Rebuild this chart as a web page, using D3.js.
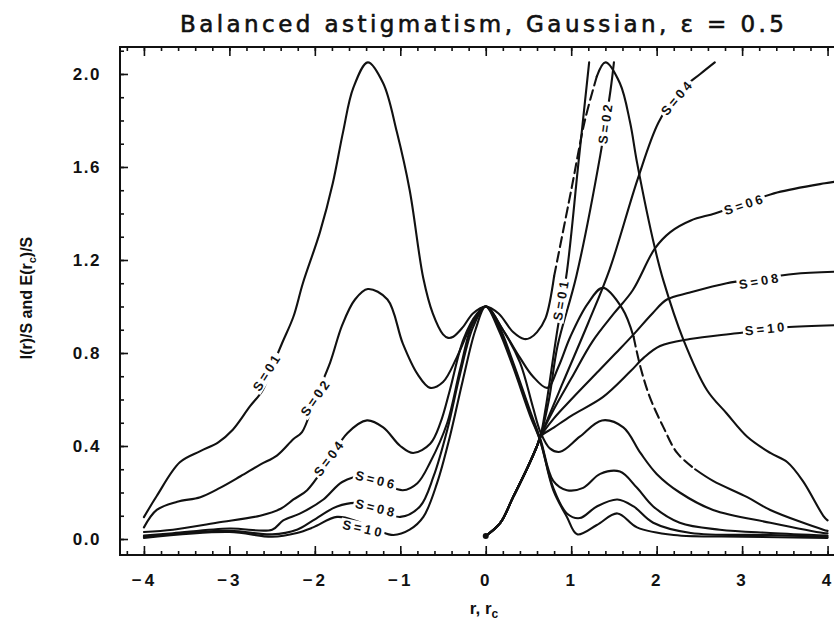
<!DOCTYPE html>
<html><head><meta charset="utf-8">
<script src="https://cdn.jsdelivr.net/npm/d3@7"></script>
<style>
body{margin:0;background:#fff;}
svg{display:block;background:#fff;}
</style></head><body>
<svg id="chart" width="834" height="624"></svg>
<script>
// ---------- data ----------
const titleText = "Balanced astigmatism, Gaussian, ε = 0.5";
const xTicks = [-4, -3, -2, -1, 0, 1, 2, 3, 4];
const yTicks = [0.0, 0.4, 0.8, 1.2, 1.6, 2.0];
const strehl = [0.1, 0.2, 0.4, 0.6, 0.8, 1.0];

// I(r)/S curves, [r, value]
const intensityS01 = [[-4,0.094],[-3.85,0.185],[-3.58,0.33],[-3.34,0.378],[-3.13,0.416],[-2.96,0.47],[-2.76,0.57],[-2.61,0.64],[-2.5,0.74],[-2.38,0.845],[-2.25,0.957],[-2.14,1.10],[-1.94,1.32],[-1.79,1.53],[-1.67,1.75],[-1.55,1.94],[-1.38,2.05],[-1.20,1.96],[-1.04,1.75],[-0.89,1.50],[-0.73,1.12],[-0.62,0.97],[-0.50,0.88],[-0.44,0.865],[-0.38,0.87],[-0.27,0.91],[-0.15,0.97],[0,1.0],[0.15,0.97],[0.32,0.89],[0.45,0.86],[0.52,0.865],[0.6,0.89],[0.7,0.95],[0.8,1.13],[1.0,1.5],[1.16,1.8],[1.3,1.99],[1.4,2.05],[1.57,1.96],[1.69,1.79],[1.77,1.62],[1.98,1.25],[2.08,1.11],[2.31,0.86],[2.59,0.64],[2.82,0.54],[3.06,0.44],[3.33,0.37],[3.53,0.33],[3.71,0.25],[3.95,0.10],[4.0,0.08]];
const intensityS02 = [[-4,0.05],[-3.85,0.125],[-3.61,0.16],[-3.34,0.18],[-3.11,0.22],[-2.87,0.27],[-2.64,0.32],[-2.44,0.36],[-2.25,0.43],[-2.15,0.46],[-2.0,0.6],[-1.82,0.76],[-1.68,0.92],[-1.53,1.03],[-1.38,1.075],[-1.15,1.03],[-0.97,0.84],[-0.8,0.71],[-0.65,0.65],[-0.5,0.675],[-0.34,0.78],[-0.18,0.91],[0,1.0],[0.2,0.9],[0.4,0.78],[0.55,0.70],[0.72,0.65],[0.85,0.74],[0.99,0.87],[1.19,1.01],[1.37,1.08],[1.6,0.99],[1.73,0.87],[1.81,0.74],[1.92,0.61],[2.08,0.48],[2.24,0.37],[2.45,0.30],[2.66,0.25],[3.06,0.18],[3.33,0.125],[3.95,0.04],[4,0.035]];
const intensityS04 = [[-4,0.03],[-3.66,0.04],[-3.15,0.07],[-2.64,0.10],[-2.4,0.13],[-2.25,0.17],[-2.09,0.21],[-1.85,0.33],[-1.62,0.455],[-1.39,0.51],[-1.2,0.48],[-1.0,0.40],[-0.85,0.37],[-0.65,0.41],[-0.53,0.5],[-0.42,0.64],[-0.26,0.86],[-0.1,0.97],[0,1.0],[0.2,0.9],[0.4,0.76],[0.55,0.57],[0.64,0.46],[0.75,0.39],[0.87,0.375],[1.1,0.44],[1.36,0.51],[1.61,0.48],[1.81,0.37],[2.0,0.28],[2.27,0.2],[2.66,0.125],[3.33,0.07],[3.95,0.026],[4,0.025]];
const intensityS06 = [[-4,0.015],[-3.66,0.025],[-3.0,0.045],[-2.5,0.04],[-2.37,0.08],[-2.17,0.11],[-1.9,0.17],[-1.68,0.245],[-1.45,0.27],[-1.2,0.24],[-0.97,0.21],[-0.8,0.24],[-0.65,0.33],[-0.45,0.5],[-0.3,0.73],[-0.15,0.93],[0,1.0],[0.15,0.92],[0.32,0.76],[0.52,0.55],[0.64,0.43],[0.79,0.25],[0.95,0.21],[1.14,0.22],[1.34,0.28],[1.57,0.29],[1.77,0.22],[1.96,0.14],[2.27,0.07],[2.74,0.04],[3.33,0.026],[4,0.015]];
const intensityS08 = [[-4,0.01],[-3.0,0.035],[-2.5,0.02],[-2.21,0.04],[-2.02,0.08],[-1.74,0.14],[-1.5,0.155],[-1.25,0.125],[-1.0,0.095],[-0.77,0.14],[-0.61,0.27],[-0.45,0.47],[-0.3,0.71],[-0.15,0.91],[0,1.0],[0.15,0.91],[0.32,0.75],[0.52,0.54],[0.64,0.42],[0.79,0.22],[0.95,0.11],[1.1,0.09],[1.3,0.14],[1.54,0.17],[1.73,0.14],[1.96,0.07],[2.4,0.026],[3.33,0.017],[4,0.01]];
const intensityS10 = [[-4,0.005],[-3.0,0.03],[-2.5,0.01],[-2.21,0.026],[-2.02,0.05],[-1.74,0.095],[-1.5,0.075],[-1.25,0.035],[-1.08,0.017],[-0.89,0.04],[-0.73,0.095],[-0.57,0.24],[-0.42,0.44],[-0.27,0.68],[-0.12,0.9],[0,1.0],[0.15,0.9],[0.32,0.74],[0.52,0.53],[0.64,0.42],[0.79,0.21],[0.95,0.095],[1.07,0.02],[1.3,0.06],[1.54,0.11],[1.77,0.05],[2.2,0.017],[3,0.01],[4,0.005]];

// E(rc)/S curves, [rc, value]
const energyS01 = [[0,0.013],[0.17,0.069],[0.32,0.18],[0.48,0.30],[0.6,0.4],[0.64,0.44],[0.7,0.56],[0.83,0.88],[0.95,1.15],[1.08,1.6],[1.21,2.05]];
const energyS02 = [[0,0.013],[0.17,0.069],[0.32,0.18],[0.48,0.30],[0.6,0.4],[0.64,0.44],[0.74,0.6],[0.84,0.83],[1.06,1.13],[1.34,1.65],[1.46,1.93],[1.50,2.05]];
const energyS04 = [[0,0.013],[0.17,0.069],[0.32,0.18],[0.48,0.30],[0.6,0.4],[0.64,0.44],[0.9,0.67],[1.2,0.93],[1.45,1.16],[1.78,1.55],[2.02,1.79],[2.25,1.92],[2.51,2.0],[2.68,2.05]];
const energyS06 = [[0,0.013],[0.17,0.069],[0.32,0.18],[0.48,0.30],[0.6,0.4],[0.64,0.44],[0.8,0.56],[1.0,0.69],[1.25,0.85],[1.5,0.97],[1.72,1.07],[1.98,1.25],[2.16,1.32],[2.4,1.37],[2.68,1.40],[3.0,1.44],[3.41,1.49],[3.97,1.53],[4.15,1.54]];
const energyS08 = [[0,0.013],[0.17,0.069],[0.32,0.18],[0.48,0.30],[0.6,0.4],[0.64,0.44],[0.8,0.52],[1.0,0.6],[1.34,0.73],[1.55,0.81],[1.73,0.88],[1.95,0.97],[2.12,1.03],[2.39,1.06],[2.82,1.10],[3.2,1.12],[3.6,1.14],[4.15,1.15]];
const energyS10 = [[0,0.013],[0.17,0.069],[0.32,0.18],[0.48,0.30],[0.6,0.4],[0.64,0.44],[0.8,0.48],[1.0,0.53],[1.37,0.61],[1.69,0.72],[1.85,0.78],[2.04,0.83],[2.39,0.86],[2.94,0.885],[3.5,0.91],[4.15,0.92]];

// curve labels (text, r, value)
const labelText = ["S=01","S=02","S=04","S=06","S=08","S=10","S=01","S=02","S=04","S=06","S=08","S=10"];
const labelR = [-2.56,-1.99,-1.83,-1.28,-1.28,-1.43,0.88,1.40,2.24,3.03,3.21,3.28];
const labelV = [0.72,0.61,0.35,0.254,0.133,0.045,1.03,1.79,1.90,1.44,1.11,0.905];

// ---------- layout / style ----------
const labelAngle = [-58,-55,-53,14,14,12,-80,-82,-50,-18,-10,-6];
const intensitySeries = [intensityS01, intensityS02, intensityS04, intensityS06, intensityS08, intensityS10];
const energySeries = [energyS01, energyS02, energyS04, energyS06, energyS08, energyS10];
const dashRanges = [[0.8,1.3],[1.73,2.45],null,null,null,null];

const svg = d3.select("#chart");
const x = d3.scaleLinear().domain([-4.28, 4.3]).range([120, 853.2]);
const y = d3.scaleLinear().domain([-0.0688, 2.116]).range([555, 47]);
const tickFont = "'Liberation Sans', Arial, sans-serif";

// title
svg.append("text")
  .attr("x", 180).attr("y", 32)
  .attr("textLength", 604).attr("lengthAdjust", "spacing")
  .attr("font-family", "'DejaVu Sans', sans-serif")
  .attr("font-size", 23)
  .attr("fill", "#111").attr("stroke", "#111").attr("stroke-width", 0.6)
  .text(titleText);

// axes
function styleAxis(g) {
  g.select(".domain").remove();
  g.selectAll("line").attr("stroke", "#111").attr("stroke-width", 1.6);
  g.selectAll("text").attr("font-family", tickFont).attr("font-size", 17)
    .attr("font-weight", "bold").attr("fill", "#111").attr("letter-spacing", "1.5px");
}
const yMinor = d3.range(0, 22).map(i => i / 10);
const xMinor = d3.range(-21, 22).map(i => i / 5);

svg.append("g").attr("transform", "translate(120,0)")
  .call(d3.axisLeft(y).tickValues(yMinor).tickSizeInner(-4).tickSizeOuter(0).tickFormat(""))
  .call(styleAxis);
svg.append("g").attr("transform", "translate(120,0)")
  .call(d3.axisLeft(y).tickValues(yTicks).tickFormat(d3.format(".1f")).tickSizeInner(-8).tickSizeOuter(0).tickPadding(19))
  .call(styleAxis);

svg.append("g").attr("transform", "translate(0,555)")
  .call(d3.axisBottom(x).tickValues(xMinor).tickSizeInner(-4).tickSizeOuter(0).tickFormat(""))
  .call(styleAxis);
svg.append("g").attr("transform", "translate(0,555)")
  .call(d3.axisBottom(x).tickValues(xTicks).tickSizeInner(-9).tickSizeOuter(0).tickPadding(19).tickFormat(d3.format("d")))
  .call(styleAxis)
  .call(g => g.selectAll("text").attr("letter-spacing", "3px"));

svg.append("g").attr("transform", "translate(0,47)")
  .call(d3.axisTop(x).tickValues(xMinor).tickSizeInner(-4).tickSizeOuter(0).tickFormat(""))
  .call(styleAxis);
svg.append("g").attr("transform", "translate(0,47)")
  .call(d3.axisTop(x).tickValues(xTicks).tickSizeInner(-9).tickSizeOuter(0).tickFormat(""))
  .call(styleAxis);

// frame
svg.append("path")
  .attr("d", `M${x.range()[1]},47 H120 V555 H${x.range()[1]}`)
  .attr("fill", "none").attr("stroke", "#111").attr("stroke-width", 2);

// axis titles
const yl = svg.append("text")
  .attr("transform", "translate(32,298) rotate(-90)")
  .attr("text-anchor", "middle")
  .attr("font-family", tickFont).attr("font-size", 16).attr("font-weight", "bold").attr("fill", "#111");
yl.append("tspan").text("I(r)/S and E(r");
yl.append("tspan").attr("font-size", 11).attr("dy", 4).text("c");
yl.append("tspan").attr("dy", -4).text(")/S");

const xl = svg.append("text")
  .attr("x", 484).attr("y", 614)
  .attr("text-anchor", "middle")
  .attr("font-family", tickFont).attr("font-size", 17).attr("font-weight", "bold").attr("fill", "#111");
xl.append("tspan").text("r, r");
xl.append("tspan").attr("font-size", 12).attr("dy", 4).text("c");

// curves
const line = d3.line().x(d => x(d[0])).y(d => y(d[1])).curve(d3.curveCatmullRom.alpha(0.5));
const curves = svg.append("g").attr("fill", "none").attr("stroke", "#111")
  .attr("stroke-width", 2.1).attr("stroke-linejoin", "round").attr("stroke-linecap", "round");

function drawPath(data, dashed) {
  const p = curves.append("path").attr("d", line(data));
  if (dashed) p.attr("stroke-dasharray", "10,5");
}
intensitySeries.forEach((data, i) => {
  const dr = dashRanges[i];
  if (!dr) { drawPath(data, false); return; }
  drawPath(data.filter(d => d[0] <= dr[0]), false);
  drawPath(data.filter(d => d[0] >= dr[0] && d[0] <= dr[1]), true);
  drawPath(data.filter(d => d[0] >= dr[1]), false);
});
energySeries.forEach(data => drawPath(data, false));

// start dot of the energy curves
svg.append("circle")
  .attr("cx", x(energyS01[0][0])).attr("cy", y(energyS01[0][1]))
  .attr("r", 3).attr("fill", "#111");

// curve labels
const lg = svg.append("g");
labelText.forEach((t, i) => {
  const g = lg.append("g")
    .attr("transform", `translate(${x(labelR[i])},${y(labelV[i])}) rotate(${labelAngle[i]})`);
  const rect = g.append("rect").attr("fill", "#fff");
  const txt = g.append("text")
    .attr("text-anchor", "middle").attr("dy", "0.36em")
    .attr("font-family", tickFont).attr("font-size", 13).attr("font-weight", "bold")
    .attr("letter-spacing", "3px").attr("fill", "#111")
    .text(t);
  const bb = txt.node().getBBox();
  rect.attr("x", bb.x - 2).attr("y", bb.y + 1).attr("width", bb.width + 2).attr("height", bb.height - 2);
});
</script>
</body></html>
